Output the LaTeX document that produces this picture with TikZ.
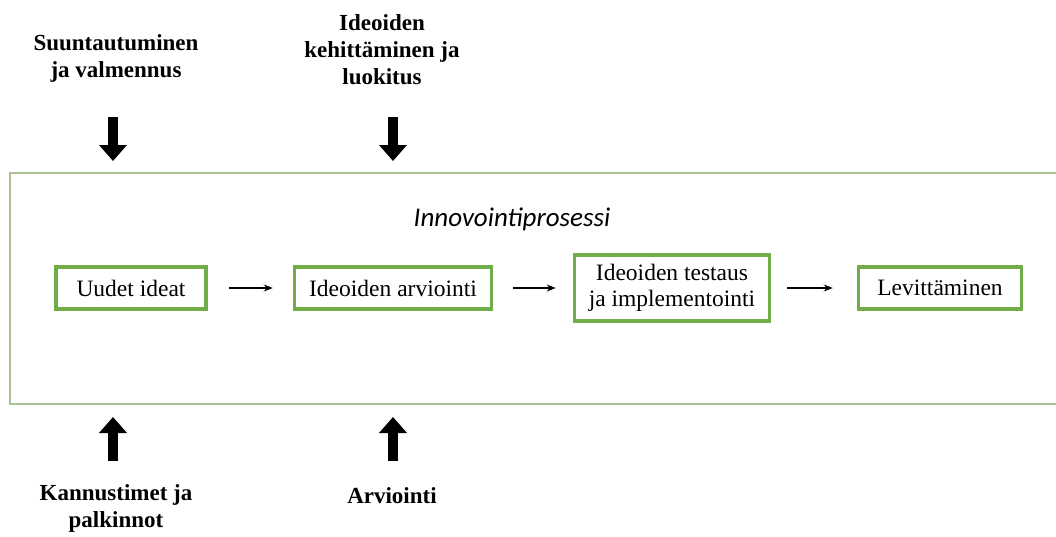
\documentclass[tikz,border=0pt]{standalone}
\usepackage{fontspec}
\setmainfont{Liberation Serif}
\newfontfamily\calfont{Carlito}
\usetikzlibrary{arrows.meta}
\definecolor{boxgreen}{HTML}{70AD47}
\definecolor{framegreen}{HTML}{A9C28F}
\tikzset{
  stepbox/.style={draw=boxgreen, line width=3.5pt, fill=white, inner sep=0pt,
    minimum height=42pt, align=center, font=\fontsize{23.5}{26}\selectfont},
  label/.style={align=center, font=\fontsize{23}{27}\selectfont\bfseries, inner sep=0pt},
  flow/.style={-{Stealth[length=9pt,width=7pt]}, line width=1.1pt},
  bigarrow/.style={-{Triangle[length=16pt,width=27pt]}, line width=10pt},
}
\begin{document}
\begin{tikzpicture}[x=1pt,y=-1pt]
\useasboundingbox (0,0) rectangle (1056,536);
\fill[white] (0,0) rectangle (1056,536);
% frame
\draw[framegreen, line width=2pt] (1060,173) -- (10,173) -- (10,404) -- (1060,404);
\node[font=\calfont\itshape\fontsize{27}{32}\selectfont, inner sep=0pt] (title) at (512,219) {Innovointiprosessi};
% process boxes
\node[stepbox, minimum width=150pt] (b1) at (131,288) {Uudet ideat};
\node[stepbox, minimum width=197pt] (b2) at (393,288) {Ideoiden arviointi};
\node[stepbox, minimum width=195pt, minimum height=66pt] (b3) at (672,288) {Ideoiden testaus\\ja implementointi};
\node[stepbox, minimum width=163pt] (b4) at (940,288) {Levittäminen};
\draw[flow] ([xshift=21pt]b1.east) -- ([xshift=-20pt]b2.west);
\draw[flow] ([xshift=20pt]b2.east) -- ([xshift=-17pt]b3.west);
\draw[flow] ([xshift=16pt]b3.east) -- ([xshift=-24pt]b4.west);
% top labels
\node[label] (t1) at (116,58) {Suuntautuminen\\ja valmennus};
\node[label] (t2) at (382,50) {Ideoiden\\kehittäminen ja\\luokitus};
% bottom labels
\node[label] (u1) at (116,508) {Kannustimet ja\\palkinnot};
\node[label] (u2) at (392,496) {Arviointi};
% big arrows
\coordinate (a1s) at (113,117); \coordinate (a1e) at (113,161);
\coordinate (a2s) at (393,117); \coordinate (a2e) at (393,161);
\coordinate (a3s) at (113,461); \coordinate (a3e) at (113,417);
\coordinate (a4s) at (393,461); \coordinate (a4e) at (393,417);
\draw[bigarrow] (a1s) -- (a1e);
\draw[bigarrow] (a2s) -- (a2e);
\draw[bigarrow] (a3s) -- (a3e);
\draw[bigarrow] (a4s) -- (a4e);
\end{tikzpicture}
\end{document}
